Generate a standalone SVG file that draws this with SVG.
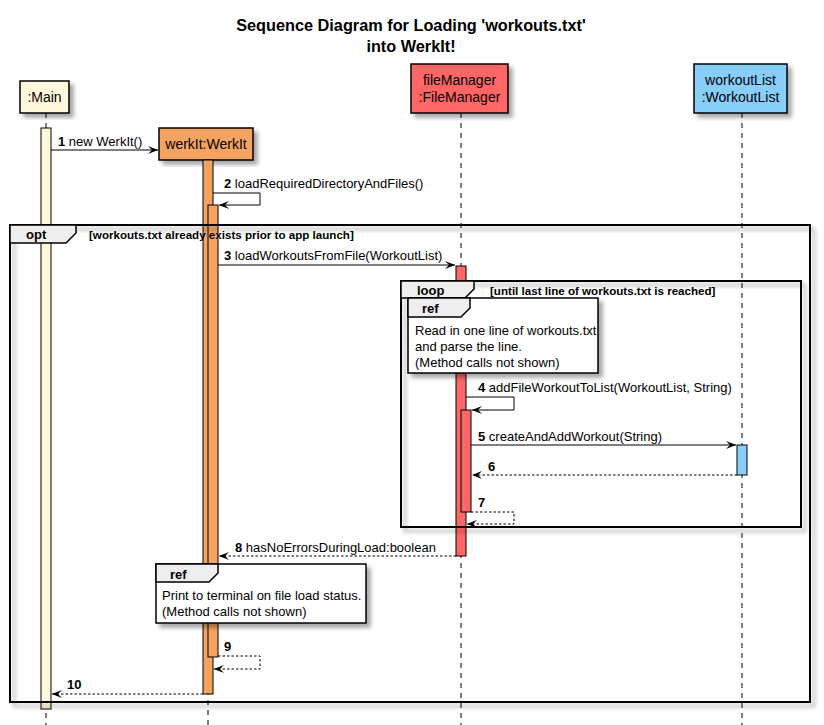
<svg xmlns="http://www.w3.org/2000/svg" width="824" height="725" viewBox="0 0 824 725">
<defs>
<filter id="sh" x="-10%" y="-10%" width="130%" height="130%">
<feDropShadow dx="4" dy="4" stdDeviation="2" flood-color="#000" flood-opacity="0.35"/>
</filter>
<marker id="ah" viewBox="-11 -5 12 10" refX="0" refY="0" markerWidth="12" markerHeight="10" markerUnits="userSpaceOnUse" orient="auto">
<path d="M0,0 L-10,-4 L-6,0 L-10,4 Z" fill="#000"/>
</marker>
</defs>
<style>
text{font-family:"Liberation Sans",Arial,sans-serif;fill:#000}
.title{font-size:16.3px;font-weight:bold;text-anchor:middle}
.pt{font-size:14px;text-anchor:middle}
.msg{font-size:13px}
.b{font-weight:bold}
.guard{font-size:11.6px;font-weight:bold}
.tab{font-size:13px;font-weight:bold}
.life{stroke:#000;stroke-width:1;stroke-dasharray:5,5;fill:none}
.box{stroke:#000;stroke-width:1.5}
.act{stroke:#000;stroke-width:1}
.frame{fill:none;stroke:#000;stroke-width:2}
.tabf{fill:#EEEEEE;stroke:#000;stroke-width:1.5}
.line{stroke:#000;stroke-width:1;fill:none}
.dash{stroke:#000;stroke-width:1;fill:none;stroke-dasharray:2.5,2}
.note{fill:#fff;stroke:#000;stroke-width:1.5}
</style>
<rect width="824" height="725" fill="#fff"/>
<text class="title" x="411" y="31">Sequence Diagram for Loading 'workouts.txt'</text>
<text class="title" x="411" y="52">into WerkIt!</text>

<!-- participants -->
<g id="main">
<rect class="box" x="20" y="81" width="49" height="32" fill="#FFF8DC" filter="url(#sh)"/>
<text class="pt" x="44.5" y="102">:Main</text>
<line class="life" x1="46" y1="113" x2="46" y2="725"/>
<rect class="act" x="41" y="128" width="10" height="581" fill="#FFF8DC"/>
</g>
<g id="werkit">
<rect class="box" x="159" y="128" width="94" height="32" fill="#F4A460" filter="url(#sh)"/>
<text class="pt" x="206" y="149">werkIt:WerkIt</text>
<line class="life" x1="208" y1="160" x2="208" y2="725"/>
<rect class="act" x="203" y="160" width="10" height="534" fill="#F4A460"/>
<rect class="act" x="208" y="205" width="10" height="452" fill="#F4A460"/>
</g>
<g id="filemanager">
<rect class="box" x="411" y="64" width="97" height="49" fill="#FF6666" filter="url(#sh)"/>
<text class="pt" x="459.5" y="85">fileManager</text>
<text class="pt" x="459.5" y="102">:FileManager</text>
<line class="life" x1="461" y1="113" x2="461" y2="725"/>
<rect class="act" x="456" y="266" width="10" height="290" fill="#FF6666"/>
<rect class="act" x="461" y="410" width="10" height="102" fill="#FF6666"/>
</g>
<g id="workoutlist">
<rect class="box" x="694" y="64" width="93" height="49" fill="#87CEFA" filter="url(#sh)"/>
<text class="pt" x="740.5" y="85">workoutList</text>
<text class="pt" x="740.5" y="102">:WorkoutList</text>
<line class="life" x1="742" y1="113" x2="742" y2="725"/>
<rect class="act" x="737" y="445" width="10" height="30" fill="#87CEFA"/>
</g>

<!-- frames -->
<g id="opt-frame">
<rect class="frame" x="10" y="225" width="800" height="477" filter="url(#sh)"/>
<path class="tabf" d="M10,225 L76,225 L76,233 L66,243 L10,243 Z"/>
<text class="tab" x="26" y="239">opt</text>
<text class="guard" x="89" y="239">[workouts.txt already exists prior to app launch]</text>
</g>
<g id="loop-frame">
<rect class="frame" x="401" y="281" width="400" height="246" filter="url(#sh)"/>
<path class="tabf" d="M401,281 L474,281 L474,289 L465,298 L401,298 Z"/>
<text class="tab" x="417" y="295">loop</text>
<text class="guard" x="490" y="295">[until last line of workouts.txt is reached]</text>
</g>

<!-- ref notes -->
<g id="ref1">
<rect class="note" x="408" y="298" width="190" height="75" filter="url(#sh)"/>
<path class="tabf" d="M408,298 L470,298 L470,308 L461,317 L408,317 Z"/>
<text class="tab" x="422" y="313">ref</text>
<text class="msg" x="415" y="335">Read in one line of workouts.txt</text>
<text class="msg" x="415" y="351">and parse the line.</text>
<text class="msg" x="415" y="367">(Method calls not shown)</text>
</g>
<g id="ref2">
<rect class="note" x="156" y="564" width="210" height="59" filter="url(#sh)"/>
<path class="tabf" d="M156,564 L218,564 L218,573 L209,582 L156,582 Z"/>
<text class="tab" x="170" y="579">ref</text>
<text class="msg" x="162" y="600">Print to terminal on file load status.</text>
<text class="msg" x="162" y="616">(Method calls not shown)</text>
</g>

<!-- connectors -->
<g id="connectors">
<line class="line" x1="51" y1="150" x2="158" y2="150" marker-end="url(#ah)"/>
<text class="msg" x="58" y="146"><tspan class="b">1</tspan> new WerkIt()</text>

<polyline class="line" points="213,193 260,193 260,205 219,205" marker-end="url(#ah)"/>
<text class="msg" x="224" y="188"><tspan class="b">2</tspan> loadRequiredDirectoryAndFiles()</text>

<line class="line" x1="218" y1="265" x2="455" y2="265" marker-end="url(#ah)"/>
<text class="msg" x="224" y="260"><tspan class="b">3</tspan> loadWorkoutsFromFile(WorkoutList)</text>

<polyline class="line" points="466,397 514,397 514,410 472,410" marker-end="url(#ah)"/>
<text class="msg" x="478" y="392"><tspan class="b">4</tspan> addFileWorkoutToList(WorkoutList, String)</text>

<line class="line" x1="471" y1="445" x2="736" y2="445" marker-end="url(#ah)"/>
<text class="msg" x="478" y="441"><tspan class="b">5</tspan> createAndAddWorkout(String)</text>

<line class="dash" x1="737" y1="475" x2="472" y2="475" marker-end="url(#ah)"/>
<text class="msg b" x="488" y="471">6</text>

<polyline class="dash" points="471,512 514,512 514,524 467,524" marker-end="url(#ah)"/>
<text class="msg b" x="478" y="507">7</text>

<line class="dash" x1="456" y1="556" x2="219" y2="556" marker-end="url(#ah)"/>
<text class="msg" x="235" y="552"><tspan class="b">8</tspan> hasNoErrorsDuringLoad:boolean</text>

<polyline class="dash" points="218,656 260,656 260,669 214,669" marker-end="url(#ah)"/>
<text class="msg b" x="224" y="651">9</text>

<line class="dash" x1="203" y1="694" x2="52" y2="694" marker-end="url(#ah)"/>
<text class="msg b" x="67" y="689">10</text>
</g>
</svg>
